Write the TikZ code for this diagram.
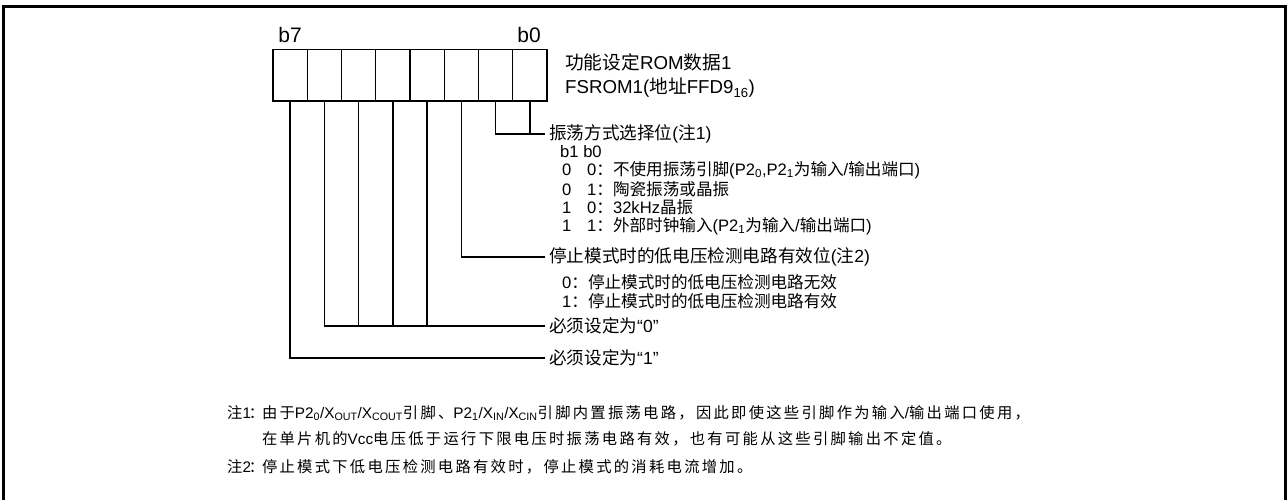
\documentclass[tikz,border=0pt]{standalone}
\usepackage{fontspec}
\setmainfont{Liberation Sans}
\newfontfamily\cj{Noto Sans CJK SC}
\newfontfamily\cjn[LetterSpace=15]{Noto Sans CJK SC}
\newcommand\fs[1]{\fontsize{#1}{#1}\selectfont}
\newcommand\ncolon{\makebox[11pt][c]{\cj ：}}
\begin{document}
\begin{tikzpicture}[x=1pt,y=-1pt,
  cell/.style={draw, line width=1.3pt, minimum width=34.25pt, minimum height=51.5pt, inner sep=0pt},
  lbl/.style={anchor=west, inner xsep=4pt, inner ysep=0pt, font=\fs{17.6}},
  sub/.style={anchor=west, inner sep=0pt, font=\fs{16.6}},
  note/.style={anchor=west, inner sep=0pt, font=\fs{15.3}},
  bitlbl/.style={inner sep=0pt, font=\fs{21}},
  title/.style={anchor=west, inner sep=0pt, font=\fs{18.7}},
  wire/.style={line width=1.3pt},
  frame/.style={line width=2.8pt}]
\useasboundingbox (0,0) rectangle (1287,500);
\draw[frame] (3.5,500) -- (3.5,6.3) -- (1285.8,6.3) -- (1285.8,500);

\foreach \i in {0,...,7} \node[cell] (c\i) at ({529.875-34.25*\i},75.25) {};
\node[bitlbl] (b7) at (290,35) {b7};
\node[bitlbl] (b0) at (529,35) {b0};

\node[title] (t1) at (565,62) {{\cj 功能设定}ROM{\cj 数据}1};
\node[title] (t2) at (565,88) {FSROM1({\cj 地址}FFD9\textsubscript{16})};

\node[lbl] (l1) at (545,134) {{\cj 振荡方式选择位}({\cj 注}1)};
\node[sub] (s0) at (560,152) {b1 b0};
\node[sub] (s1) at (562,170) {\makebox[25pt][l]{0}0{\cj ：不使用振荡引脚}(P2\textsubscript{0},P2\textsubscript{1}{\cj 为输入}/{\cj 输出端口})};
\node[sub] (s2) at (562,189) {\makebox[25pt][l]{0}1{\cj ：陶瓷振荡或晶振}};
\node[sub] (s3) at (562,207) {\makebox[25pt][l]{1}0{\cj ：}32kHz{\cj 晶振}};
\node[sub] (s4) at (562,226) {\makebox[25pt][l]{1}1{\cj ：外部时钟输入}(P2\textsubscript{1}{\cj 为输入}/{\cj 输出端口})};

\node[lbl] (l2) at (545,257) {{\cj 停止模式时的低电压检测电路有效位}({\cj 注}2)};
\node[sub] (s5) at (562,282) {0{\cj ：停止模式时的低电压检测电路无效}};
\node[sub] (s6) at (562,301) {1{\cj ：停止模式时的低电压检测电路有效}};

\node[lbl] (l3) at (545,326) {{\cj 必须设定为}“0”};
\node[lbl] (l4) at (545,358) {{\cj 必须设定为}“1”};

\draw[wire] (c1.south) |- (l1.west);
\draw[wire] (c0.south) -- (c0.south |- l1.west);
\draw[wire] (c2.south) |- (l2.west);
\draw[wire] (c6.south) |- (l3.west);
\foreach \i in {3,4,5} \draw[wire] (c\i.south) -- (c\i.south |- l3.west);
\draw[wire] (c7.south) |- (l4.west);

\node[note] (n1) at (227,413) {{\cjn 注}1\ncolon{\cjn 由于}P2\textsubscript{0}/X\textsubscript{OUT}/X\textsubscript{COUT}{\cjn 引脚、}P2\textsubscript{1}/X\textsubscript{IN}/X\textsubscript{CIN}{\cjn 引脚内置振荡电路，因此即使这些引脚作为输入}/{\cjn 输出端口使用，}};
\node[note] (n2) at (227,439) {\hphantom{{\cjn 注}1\ncolon}{\cjn 在单片机的}Vcc{\cjn 电压低于运行下限电压时振荡电路有效，也有可能从这些引脚输出不定值。}};
\node[note] (n3) at (227,467) {{\cjn 注}2\ncolon{\cjn 停止模式下低电压检测电路有效时，停止模式的消耗电流增加。}};
\end{tikzpicture}
\end{document}
